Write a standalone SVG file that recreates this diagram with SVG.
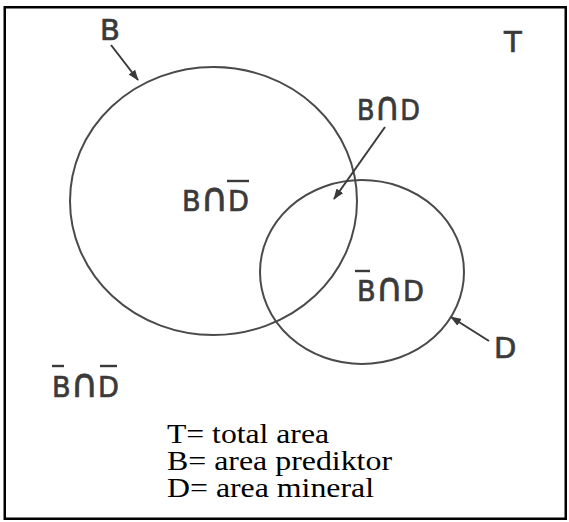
<svg xmlns="http://www.w3.org/2000/svg" width="569" height="522" viewBox="0 0 569 522">
  <style>
    .lbl { font-family: "DejaVu Sans", "Liberation Sans", sans-serif; font-size: 29px; fill: #3a3a3a; stroke: #3a3a3a; stroke-width: 0.7; }
    .cap { font-size: 40px; }
    .leg { font-family: "Liberation Serif", "Times New Roman", serif; font-size: 27px; fill: #000; }
    .set { fill: none; stroke: #4a4a4a; stroke-width: 2; }
    .bar { stroke: #3a3a3a; stroke-width: 2.4; }
    .conn { stroke: #3a3a3a; stroke-width: 2; fill: none; marker-end: url(#ah); }
  </style>
  <defs>
    <marker id="ah" viewBox="0 0 11 8" refX="10" refY="4" markerWidth="11" markerHeight="8" markerUnits="userSpaceOnUse" orient="auto">
      <path d="M0,0 L11,4 L0,8 z" fill="#3a3a3a"/>
    </marker>
  </defs>
  <rect x="0" y="0" width="569" height="522" fill="#fff"/>
  <rect x="4.75" y="7.25" width="561" height="511.5" fill="none" stroke="#000" stroke-width="2.5"/>

  <g id="set-B">
    <ellipse class="set" cx="213.5" cy="201" rx="143.5" ry="134"/>
    <text class="lbl" x="100" y="40">B</text>
  </g>
  <g id="set-D">
    <ellipse class="set" cx="362" cy="272" rx="102" ry="92"/>
    <text class="lbl" x="494" y="358">D</text>
  </g>
  <g id="universe-T">
    <text class="lbl" x="504" y="52">T</text>
  </g>
  <g id="region-BnD">
    <text class="lbl" x="357" y="120" textLength="63" lengthAdjust="spacingAndGlyphs">B<tspan class="cap">∩</tspan>D</text>
  </g>
  <g id="region-BnDbar">
    <text class="lbl" x="182" y="211" textLength="67" lengthAdjust="spacingAndGlyphs">B<tspan class="cap">∩</tspan>D</text>
    <line class="bar" x1="227" y1="181" x2="249" y2="181"/>
  </g>
  <g id="region-BbarnD">
    <text class="lbl" x="357" y="301" textLength="67" lengthAdjust="spacingAndGlyphs">B<tspan class="cap">∩</tspan>D</text>
    <line class="bar" x1="355" y1="271" x2="370" y2="271"/>
  </g>
  <g id="region-BbarnDbar">
    <text class="lbl" x="52" y="397" textLength="67" lengthAdjust="spacingAndGlyphs">B<tspan class="cap">∩</tspan>D</text>
    <line class="bar" x1="52" y1="366" x2="64" y2="366"/>
    <line class="bar" x1="100" y1="366" x2="117" y2="366"/>
  </g>

  <g id="connectors">
    <line class="conn" x1="111" y1="45" x2="138" y2="80"/>
    <line class="conn" x1="385" y1="127" x2="334" y2="199"/>
    <line class="conn" x1="489" y1="341" x2="451" y2="317"/>
  </g>

  <g id="legend">
    <text class="leg" x="167" y="443" textLength="162" lengthAdjust="spacingAndGlyphs">T= total area</text>
    <text class="leg" x="167" y="470" textLength="225" lengthAdjust="spacingAndGlyphs">B= area prediktor</text>
    <text class="leg" x="167" y="497" textLength="207" lengthAdjust="spacingAndGlyphs">D= area mineral</text>
  </g>
</svg>
